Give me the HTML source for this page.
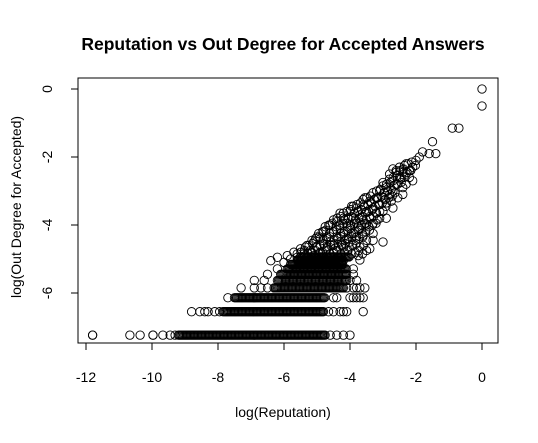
<!DOCTYPE html>
<html><head><meta charset="utf-8"><style>
html,body{margin:0;padding:0;background:#fff;}
svg{display:block;font-family:"Liberation Sans",Arial,sans-serif;}
</style></head><body>
<svg id="chart" width="538" height="443">
<text x="283" y="50" text-anchor="middle" font-size="17.5" font-weight="bold">Reputation vs Out Degree for Accepted Answers</text>
<rect x="78" y="78" width="420" height="265" fill="none" stroke="#000" stroke-width="1"/>
<g id="xaxis"></g>
<g id="yaxis"></g>
<g id="points"></g>
<text x="283" y="417" text-anchor="middle" font-size="14">log(Reputation)</text>
<text transform="translate(21,207) rotate(-90)" text-anchor="middle" font-size="14">log(Out Degree for Accepted)</text>
</svg>
<script>
const xTicks=[-12,-10,-8,-6,-4,-2,0];
const yTicks=[0,-2,-4,-6];
const rowY=[-7.24,-6.55,-6.14,-5.85,-5.63,-5.45,-5.29,-5.16,-5.04,-4.94];
const rowDense=[[-9.2,-4.75],[-7.85,-4.8],[-7.5,-4.75],[-6.3,-4.2],[-6.2,-4.1],[-6.1,-4.1],[-5.9,-4.1],[-5.8,-4.2],[-5.6,-4.2],[-5.5,-4.0]];
const rowSingles=[[-11.8,-11.8,-10.67,-10.36,-9.97,-9.97,-9.67,-9.45,-9.3,-4.6,-4.4,-4.2,-4.0],
[-8.8,-8.55,-8.4,-8.3,-8.1,-7.95,-4.65,-4.5,-4.3,-4.2,-4.1,-3.6],
[-7.7,-4.5,-4.4,-4.0,-3.9,-3.8,-3.7,-3.6],
[-7.3,-6.9,-6.7,-6.5,-4.1,-3.9,-3.8,-3.7,-3.55],
[-6.9,-6.6,-4.0,-3.8],[-6.5,-3.9],[-6.2,-3.9],[],[],[]];
const bandY=[-4.8,-4.6,-4.4,-4.2,-4.0,-3.8,-3.6,-3.4,-3.2,-3.0,-2.8,-2.6,-2.4,-2.2];
const bandStart=[-5.6,-5.35,-5.15,-4.95,-4.75,-4.5,-4.2,-3.9,-3.6,-3.3,-3.0,-2.8,-2.6,-2.35];
const bandEnd=[-3.6,-3.5,-3.4,-3.3,-3.2,-3.1,-3.0,-2.85,-2.7,-2.6,-2.45,-2.3,-2.1,-1.95];
const cloud=[[-6.4,-5.05],[-6.2,-4.95],[-6.0,-5.1],[-5.9,-4.9],[-5.8,-5.0],[-5.7,-4.8],[-5.6,-4.95],[-5.5,-4.7],[-5.5,-5.05],[-5.4,-4.85],[-5.3,-4.6],[-5.3,-4.95],[-5.2,-4.75],[-5.2,-5.1],[-5.1,-4.5],[-5.1,-4.9],[-5.0,-4.65],[-5.0,-4.35],[-5.0,-5.0],[-4.9,-4.4],[-4.9,-4.8],[-4.8,-4.55],[-4.8,-4.2],[-4.8,-4.95],[-4.7,-4.35],[-4.7,-4.7],[-4.6,-4.0],[-4.6,-4.5],[-4.6,-4.85],[-4.5,-4.2],[-4.5,-4.6],[-4.4,-3.9],[-4.4,-4.35],[-4.4,-4.75],[-4.3,-4.1],[-4.3,-4.5],[-4.2,-3.8],[-4.2,-4.25],[-4.2,-4.65],[-4.1,-3.95],[-4.1,-4.4],[-4.0,-3.6],[-4.0,-4.1],[-4.0,-4.5],[-3.9,-3.8],[-3.9,-4.25],[-3.8,-3.5],[-3.8,-3.95],[-3.8,-4.35],[-3.7,-3.7],[-3.7,-4.1],[-3.6,-3.4],[-3.6,-3.85],[-3.6,-4.3],[-3.5,-3.6],[-3.5,-4.0],[-3.4,-3.3],[-3.4,-3.75],[-3.3,-3.5],[-3.3,-3.95],[-3.2,-3.2],[-3.2,-3.65],[-3.1,-3.0],[-3.1,-3.4],[-3.1,-3.8],[-3.0,-3.2],[-3.0,-3.6],[-3.0,-4.5],[-2.9,-2.9],[-2.9,-3.35],[-2.8,-2.5],[-2.8,-3.1],[-2.7,-2.7],[-2.7,-3.0],[-2.6,-2.4],[-2.6,-2.8],[-2.5,-2.3],[-2.5,-2.6],[-2.4,-2.45],[-2.4,-2.9],[-2.3,-2.2],[-2.3,-2.5],[-2.2,-2.4],[-2.2,-2.6],[-2.1,-2.3],[-2.0,-2.1],[-1.9,-2.0],[-2.1,-2.7],[-1.8,-1.85],[-1.6,-1.9],[-1.5,-1.55],[-1.4,-1.9],[-0.9,-1.15],[-0.7,-1.15],[0,0],[0,-0.5],
[-3.7,-5.03],[-3.75,-4.9],[-3.4,-4.7],[-3.3,-4.45],[-2.7,-3.5],[-2.75,-3.3],[-2.3,-2.8],[-2.4,-3.1],[-3.5,-4.75],[-2.55,-3.2],[-2.9,-3.8],[-3.95,-3.45],[-4.3,-3.65],[-3.55,-3.2],[-3.0,-2.75],[-2.7,-2.35]];

const NS='http://www.w3.org/2000/svg';
function sx(v){return 482+33*v;}
function sy(v){return 89-34*v;}
function mk(tag,attrs,parent){const e=document.createElementNS(NS,tag);for(const k in attrs)e.setAttribute(k,attrs[k]);parent.appendChild(e);return e;}
const xg=document.getElementById('xaxis'),yg=document.getElementById('yaxis'),pg=document.getElementById('points');
mk('line',{x1:sx(xTicks[0]),x2:sx(xTicks[xTicks.length-1]),y1:343,y2:343,stroke:'#000'},xg);
xTicks.forEach(t=>{
  mk('line',{x1:sx(t),x2:sx(t),y1:343,y2:350,stroke:'#000'},xg);
  const tx=mk('text',{x:sx(t),y:382,'text-anchor':'middle','font-size':14},xg);
  tx.textContent=String(t);
  
  
});
mk('line',{x1:78,x2:78,y1:sy(yTicks[0]),y2:sy(yTicks[yTicks.length-1]),stroke:'#000'},yg);
yTicks.forEach(t=>{
  mk('line',{x1:71,x2:78,y1:sy(t),y2:sy(t),stroke:'#000'},yg);
  const tx=mk('text',{transform:`translate(52,${sy(t)}) rotate(-90)`,'text-anchor':'middle','font-size':14},yg);
  tx.textContent=String(t);
  
  
});
function pt(x,y){
  const c=mk('circle',{cx:sx(x),cy:sy(y),r:4.2,fill:'none',stroke:'#000','stroke-width':0.9},pg);
  
  
}
rowY.forEach((y,i)=>{
  const d=rowDense[i];
  for(let x=d[0];x<=d[1]+1e-9;x+=0.035)pt(x,y);
  rowSingles[i].forEach(x=>pt(x,y));
});
bandY.forEach((y,i)=>{
  let k=0;
  for(let x=bandStart[i];x<=bandEnd[i]+1e-9;x+=0.11){pt(x,y+((k%3)-1)*0.05);k++;}
});
cloud.forEach(p=>pt(p[0],p[1]));
</script>
</body></html>
